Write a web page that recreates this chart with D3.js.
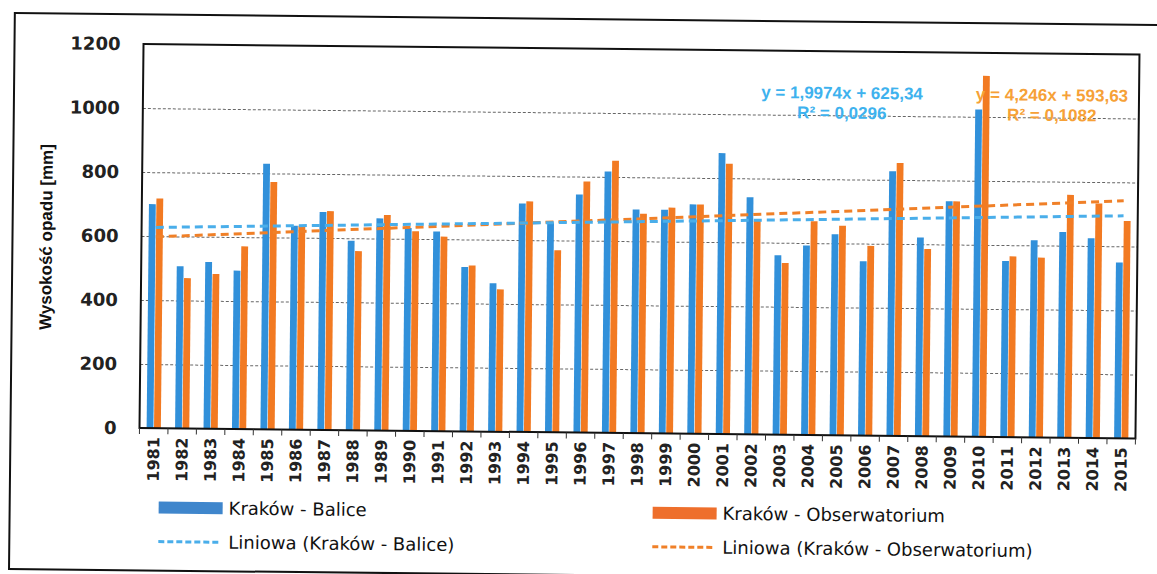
<!DOCTYPE html>
<html>
<head>
<meta charset="utf-8">
<script src="https://cdn.jsdelivr.net/npm/d3@7"></script>
<style>
  body { margin: 0; background: #fff; }
</style>
</head>
<body>
<div id="chart"></div>
<script>
// annual precipitation, Kraków stations [mm]
const years = ["1981","1982","1983","1984","1985","1986","1987","1988","1989","1990",
  "1991","1992","1993","1994","1995","1996","1997","1998","1999","2000",
  "2001","2002","2003","2004","2005","2006","2007","2008","2009","2010",
  "2011","2012","2013","2014","2015"];
const balice = [700, 507, 521, 495, 830, 637, 681, 592, 663, 634,
  624, 514, 464, 714, 655, 744, 817, 699, 699, 717,
  878, 741, 561, 592, 628, 545, 827, 621, 735, 1023,
  550, 616, 643, 624, 549];
const obserwatorium = [718, 470, 484, 571, 773, 637, 684, 560, 674, 624,
  608, 519, 445, 721, 569, 785, 851, 686, 706, 717,
  845, 668, 537, 668, 655, 593, 853, 585, 735, 1128,
  565, 562, 759, 733, 679];
const yTicks = [0, 200, 400, 600, 800, 1000, 1200];
// trend lines given on the chart: [slope, intercept]
const baliceTrend = [1.9974, 625.34];
const obsTrend = [4.246, 593.63];
const baliceTrendText = ["y = 1,9974x + 625,34", "R² = 0,0296"];
const obsTrendText = ["y = 4,246x + 593,63", "R² = 0,1082"];
const legendNames = ["Kraków - Balice", "Kraków - Obserwatorium",
  "Liniowa (Kraków - Balice)", "Liniowa (Kraków - Obserwatorium)"];

const width = 1157, height = 574;
const plot = { left: 141, right: 1137, top: 48.6, bottom: 432.6 };
const blue = "#3190da", orange = "#f27a22";
const blueTrend = "#4aaeea", orangeTrend = "#f08028";

const svg = d3.select("#chart").append("svg")
  .attr("width", width)
  .attr("height", height);

// the scanned original sits slightly tilted
const g = svg.append("g").attr("transform", "rotate(0.6,578,287)");

// outer frame
g.append("rect")
  .attr("x", 12).attr("y", 19)
  .attr("width", 1200).attr("height", 556)
  .attr("fill", "none").attr("stroke", "#111").attr("stroke-width", 2);

const x = d3.scaleBand()
  .domain(years)
  .range([plot.left, plot.right])
  .paddingInner(0.5)
  .paddingOuter(0.25);
const xs = d3.scaleBand()
  .domain(["b", "o"])
  .range([0, x.bandwidth()])
  .paddingInner(0.08);
const y = d3.scaleLinear()
  .domain([0, 1200])
  .range([plot.bottom, plot.top]);

// gridlines
const grid = g.append("g")
  .attr("transform", `translate(${plot.left},0)`)
  .call(d3.axisLeft(y).tickValues(yTicks.filter(d => d > 0 && d < 1200))
    .tickSize(-(plot.right - plot.left)).tickFormat(""));
grid.select(".domain").remove();
grid.selectAll("line")
  .attr("stroke", "#333")
  .attr("stroke-width", 1)
  .attr("stroke-dasharray", "3,2")
  .attr("opacity", 0.75);

// bars
const groups = g.append("g").selectAll("g")
  .data(years)
  .enter().append("g")
  .attr("transform", d => `translate(${x(d)},0)`);
groups.append("rect")
  .attr("x", xs("b"))
  .attr("width", xs.bandwidth())
  .attr("y", (d, i) => y(balice[i]))
  .attr("height", (d, i) => y(0) - y(balice[i]))
  .attr("fill", blue);
groups.append("rect")
  .attr("x", xs("o"))
  .attr("width", xs.bandwidth())
  .attr("y", (d, i) => y(obserwatorium[i]))
  .attr("height", (d, i) => y(0) - y(obserwatorium[i]))
  .attr("fill", orange);

// linear trends, x = 1..n at category centres
function drawTrend(coef, color) {
  const ends = [1, years.length].map(n => [x(years[n - 1]) + x.bandwidth() / 2, y(coef[0] * n + coef[1])]);
  g.append("path")
    .attr("d", d3.line()(ends))
    .attr("fill", "none")
    .attr("stroke", color)
    .attr("stroke-width", 3)
    .attr("stroke-dasharray", "8,5");
}
drawTrend(obsTrend, orangeTrend);
drawTrend(baliceTrend, blueTrend);

// plot border
g.append("rect")
  .attr("x", plot.left).attr("y", plot.top)
  .attr("width", plot.right - plot.left)
  .attr("height", plot.bottom - plot.top)
  .attr("fill", "none").attr("stroke", "#111").attr("stroke-width", 2);

// category boundary ticks
g.append("g").selectAll("line")
  .data(d3.range(years.length + 1))
  .enter().append("line")
  .attr("x1", i => plot.left + i * x.step())
  .attr("x2", i => plot.left + i * x.step())
  .attr("y1", plot.bottom)
  .attr("y2", plot.bottom + 6)
  .attr("stroke", "#333").attr("stroke-width", 1);

// y axis labels
const yAxis = g.append("g")
  .attr("transform", `translate(${plot.left},0)`)
  .call(d3.axisLeft(y).tickValues(yTicks).tickFormat(d3.format("d")).tickSize(0).tickPadding(23));
yAxis.select(".domain").remove();
yAxis.selectAll("text")
  .attr("font-family", "DejaVu Sans")
  .attr("font-weight", "bold")
  .attr("font-size", 18)
  .attr("fill", "#222");

// x axis labels
const xAxis = g.append("g")
  .attr("transform", `translate(0,${plot.bottom})`)
  .call(d3.axisBottom(x).tickSize(0));
xAxis.select(".domain").remove();
xAxis.selectAll("text")
  .attr("transform", "rotate(-90)")
  .attr("x", -9)
  .attr("y", 0)
  .attr("dy", "0.35em")
  .style("text-anchor", "end")
  .attr("font-family", "DejaVu Sans")
  .attr("font-weight", "bold")
  .attr("font-size", 16)
  .attr("fill", "#222");

// y title
g.append("text")
  .attr("transform", "translate(45.5,242.6) rotate(-90)")
  .attr("text-anchor", "middle")
  .attr("dy", "0.35em")
  .attr("font-family", "Liberation Sans")
  .attr("font-weight", "bold")
  .attr("font-size", 17)
  .attr("fill", "#111")
  .text("Wysokość opadu [mm]");

// trend equations
function equation(lines, cx, color) {
  g.append("g").selectAll("text")
    .data(lines)
    .enter().append("text")
    .attr("x", cx)
    .attr("y", (d, i) => 90 + i * 20)
    .attr("dy", "0.35em")
    .attr("text-anchor", "middle")
    .attr("font-family", "Liberation Sans")
    .attr("font-weight", "bold")
    .attr("font-size", 17)
    .attr("fill", color)
    .text(d => d);
}
equation(baliceTrendText, 840, "#3eb2ee");
equation(obsTrendText, 1050, "#f6a137");

// legend
const legend = g.append("g").attr("font-family", "DejaVu Sans").attr("font-size", 18).attr("fill", "#111");
const legendItems = [
  { name: legendNames[0], x: 161, y: 512, color: "#3f86cc", line: false },
  { name: legendNames[1], x: 655, y: 512, color: "#ee6f2c", line: false },
  { name: legendNames[2], x: 161, y: 546, color: blueTrend, line: true },
  { name: legendNames[3], x: 655, y: 546, color: orangeTrend, line: true }
];
legendItems.forEach(it => {
  if (it.line) {
    legend.append("line")
      .attr("x1", it.x).attr("x2", it.x + 63)
      .attr("y1", it.y).attr("y2", it.y)
      .attr("stroke", it.color).attr("stroke-width", 3)
      .attr("stroke-dasharray", "6,3");
  } else {
    legend.append("rect")
      .attr("x", it.x).attr("y", it.y - 6)
      .attr("width", 64).attr("height", 12)
      .attr("fill", it.color);
  }
  legend.append("text")
    .attr("x", it.x + 70).attr("y", it.y)
    .attr("dy", "0.35em")
    .text(it.name);
});
</script>
</body>
</html>
